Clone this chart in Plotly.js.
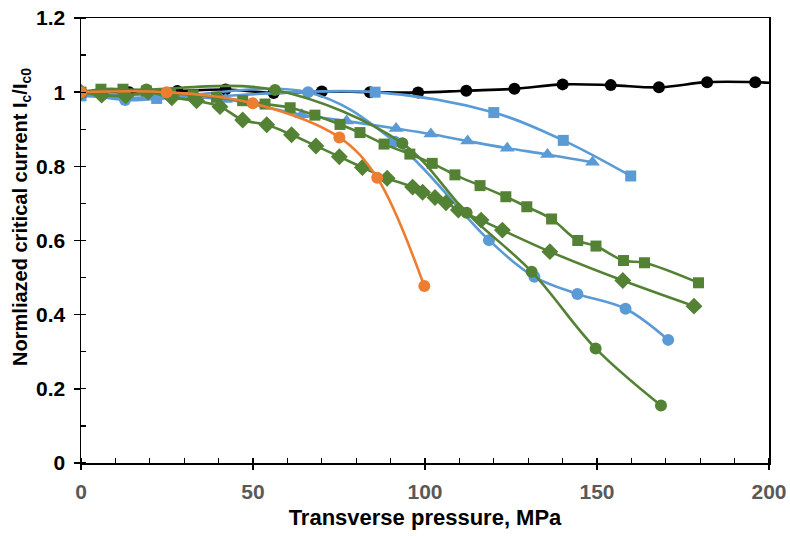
<!DOCTYPE html>
<html>
<head>
<meta charset="utf-8">
<script src="https://cdn.plot.ly/plotly-3.0.1.min.js"></script>
<style>html,body{margin:0;padding:0;background:#fff;}#chart{width:790px;height:536px;}</style>
</head>
<body>
<div id="chart"></div>
<script>
// Reference (black circles)
const blackX = [0, 14, 28, 42, 56, 70, 84, 98, 112, 126, 140, 154, 168, 182, 196, 210];
const blackY = [1.0, 1.0, 1.003, 1.007, 0.998, 1.002, 1.0, 0.999, 1.004, 1.009, 1.021, 1.019, 1.013, 1.027, 1.027, 1.02];
// Blue squares
const blueSqX = [0, 22, 85.5, 120, 140.2, 159.8];
const blueSqY = [0.99, 0.983, 1.0, 0.945, 0.87, 0.774];
// Blue triangles
const blueTriX = [0, 20, 42, 64.2, 77.2, 91.6, 101.7, 112.4, 123.9, 135.6, 148.7];
const blueTriY = [1.0, 0.99, 0.98, 0.939, 0.922, 0.902, 0.887, 0.868, 0.849, 0.832, 0.811];
// Blue circles
const blueCirX = [0, 12.8, 66, 91.2, 118.6, 131.8, 144.3, 158.3, 170.7];
const blueCirY = [1.0, 0.979, 1.0, 0.866, 0.601, 0.502, 0.456, 0.416, 0.332];
// Green squares
const greenSqX = [0, 5.8, 12.2, 19, 26, 32.6, 39.4, 47, 53.5, 60.8, 68, 75.3, 81.1, 88.1, 95.6, 102.1, 108.7, 116, 123.5, 129.6, 136.8, 144.4, 149.7, 157.7, 163.8, 179.5];
const greenSqY = [1.0, 1.008, 1.008, 1.003, 0.998, 0.993, 0.986, 0.977, 0.968, 0.958, 0.938, 0.913, 0.891, 0.86, 0.833, 0.808, 0.777, 0.748, 0.718, 0.691, 0.658, 0.6, 0.585, 0.546, 0.54, 0.486];
// Green diamonds
const greenDiX = [0, 6, 13, 19.5, 26.4, 33.6, 40.4, 47, 54, 61.2, 68.3, 75.1, 81.8, 89, 96.4, 99.3, 102.9, 106.1, 109.7, 116.3, 122.5, 136.3, 157.5, 178.2];
const greenDiY = [1.0, 0.992, 0.99, 1.0, 0.985, 0.977, 0.961, 0.925, 0.912, 0.885, 0.855, 0.826, 0.797, 0.768, 0.744, 0.73, 0.716, 0.702, 0.682, 0.655, 0.628, 0.57, 0.492, 0.423];
// Green circles
const greenCirX = [0, 19, 56.4, 93.4, 112.1, 131, 149.6, 168.6];
const greenCirY = [1.0, 1.007, 1.006, 0.862, 0.675, 0.516, 0.309, 0.155];
// Orange circles
const orangeX = [0, 24.9, 49.9, 75.1, 86.1, 99.8];
const orangeY = [1.0, 1.0, 0.970, 0.878, 0.769, 0.477];

const xTitle = 'Transverse pressure, MPa';
const yTitle = 'Normliazed critical current I<sub>c</sub>/I<sub>c0</sub>';

const BLACK = '#000000', BLUE = '#5B9BD5', GREEN = '#548235', ORANGE = '#ED7D31';
const FONT = 'Liberation Sans, Arial, sans-serif';

function tr(x, y, color, symbol, size) {
  return {
    x: x, y: y, type: 'scatter', mode: 'lines+markers',
    line: {color: color, width: 2.6, shape: 'spline', smoothing: 1},
    marker: {color: color, symbol: symbol, size: size, line: {width: 0}},
    showlegend: false, hoverinfo: 'x+y', cliponaxis: true
  };
}

const data = [
  tr(blackX, blackY, BLACK, 'circle', 12),
  tr(blueSqX, blueSqY, BLUE, 'square', 11),
  tr(blueTriX, blueTriY, BLUE, 'triangle-up', 13),
  tr(blueCirX, blueCirY, BLUE, 'circle', 12),
  tr(greenSqX, greenSqY, GREEN, 'square', 11),
  tr(greenDiX, greenDiY, GREEN, 'diamond', 13),
  tr(greenCirX, greenCirY, GREEN, 'circle', 12),
  tr(orangeX, orangeY, ORANGE, 'circle', 12)
];

const layout = {
  width: 790, height: 536,
  margin: {l: 81, r: 21, t: 18, b: 73},
  paper_bgcolor: '#ffffff', plot_bgcolor: '#ffffff',
  font: {family: FONT},
  xaxis: {
    range: [0, 200], dtick: 50, tick0: 0,
    showgrid: false, zeroline: false,
    showline: true, linecolor: '#000', linewidth: 1.5, mirror: true,
    ticks: 'outside', ticklen: 5, tickcolor: '#000', tickwidth: 1.5,
    minor: {dtick: 10, ticks: 'inside', ticklen: 5, tickcolor: '#000', tickwidth: 1.2},
    tickfont: {size: 21, color: '#595959', family: FONT, weight: 'bold'},
    ticklabelstandoff: 4,
    title: {text: '<b>' + xTitle + '</b>', font: {size: 22, color: '#000', family: FONT}, standoff: 8}
  },
  yaxis: {
    range: [0, 1.2], dtick: 0.2, tick0: 0,
    showgrid: false, zeroline: false,
    showline: true, linecolor: '#000', linewidth: 1.5, mirror: true,
    ticks: 'outside', ticklen: 6, tickcolor: '#000', tickwidth: 1.5,
    minor: {dtick: 0.1, ticks: 'inside', ticklen: 5, tickcolor: '#000', tickwidth: 1.2},
    tickfont: {size: 21, color: '#000', family: FONT, weight: 'bold'},
    ticklabelstandoff: 4
  },
  annotations: [{
    text: '<b>' + yTitle + '</b>',
    xref: 'paper', yref: 'paper',
    x: -0.0858, y: 0.553,
    xanchor: 'center', yanchor: 'middle',
    textangle: -90, showarrow: false,
    font: {size: 20, color: '#000', family: FONT}
  }]
};

Plotly.newPlot('chart', data, layout, {displayModeBar: false, staticPlot: true});
</script>
</body>
</html>
